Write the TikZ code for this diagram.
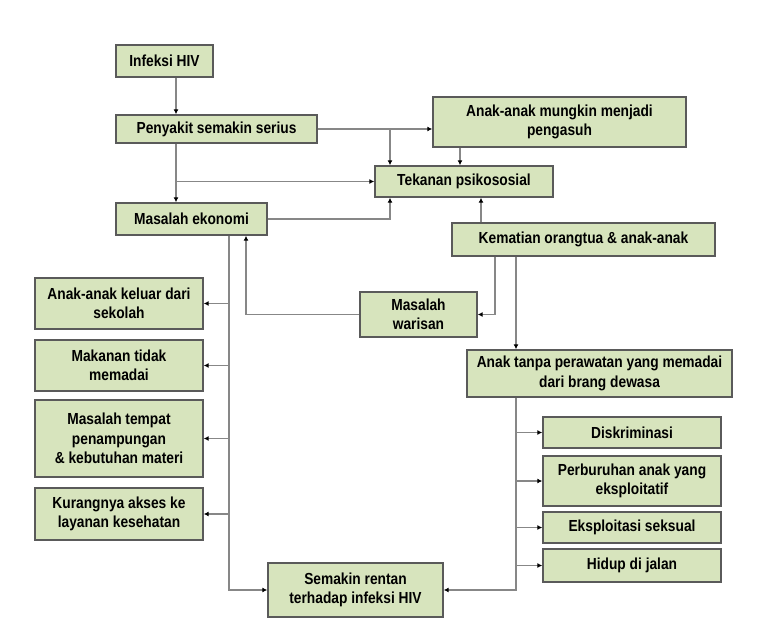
\documentclass[tikz,border=0pt]{standalone}
\usepackage{fontspec}
\usepackage{xcolor}
\usepackage{tikz}
\usetikzlibrary{arrows.meta, positioning}
\newfontfamily\boxfont{Liberation Sans}[FakeStretch=0.86]
\definecolor{boxfill}{RGB}{215,228,189}
\definecolor{boxline}{RGB}{90,90,90}
\definecolor{linegray}{RGB}{135,135,135}
\tikzset{
  box/.style={draw=boxline, line width=1.4pt, fill=boxfill, align=center, inner sep=0pt,
    font=\boxfont\bfseries\fontsize{16}{19.5}\selectfont},
  arr/.style={draw=linegray, line width=1.5pt, -{Latex[black,length=5pt,width=5pt]}},
  ln/.style={draw=linegray, line width=1.5pt}
}

\begin{document}
\begin{tikzpicture}[x=1pt,y=-1pt]
\useasboundingbox (0,0) rectangle (773,642);
\coordinate (lx) at (176,0);
\coordinate (mx) at (390,0);
\coordinate (px) at (460,0);
\coordinate (kx1) at (481,0);
\coordinate (kx2) at (495,0);
\coordinate (kx3) at (516,0);
\coordinate (wx) at (246,0);
\coordinate (ex) at (229,0);
\node[box, minimum width=97pt, minimum height=32pt] (hiv) at (164.5,61) {Infeksi HIV};
\node[box, minimum width=201pt, minimum height=28pt] (serius) at (216.5,129) {Penyakit semakin serius};
\node[box, minimum width=151pt, minimum height=32pt] (ekonomi) at (191.5,219) {Masalah ekonomi};
\node[box, minimum width=178pt, minimum height=31pt] (tekanan) at (464,181.5) {Tekanan psikososial};
\node[box, minimum width=253pt, minimum height=50pt] (pengasuh) at (559.5,122) {Anak-anak mungkin menjadi\\pengasuh};
\node[box, minimum width=263pt, minimum height=33pt] (kematian) at (583.5,239.5) {Kematian orangtua \& anak-anak};
\node[box, minimum width=117pt, minimum height=45pt] (warisan) at (418.5,314.5) {Masalah\\warisan};
\node[box, minimum width=265pt, minimum height=47pt] (perawatan) at (599.5,373.5) {Anak tanpa perawatan yang memadai\\dari brang dewasa};
\node[box, minimum width=168pt, minimum height=51pt] (sekolah) at (119,303.5) {Anak-anak keluar dari\\sekolah};
\node[box, minimum width=168pt, minimum height=51pt] (makanan) at (119,365.5) {Makanan tidak\\memadai};
\node[box, minimum width=168pt, minimum height=77pt] (tempat) at (119,438.5) {Masalah tempat\\penampungan\\\& kebutuhan materi};
\node[box, minimum width=168pt, minimum height=52pt] (akses) at (119,514) {Kurangnya akses ke\\layanan kesehatan};
\node[box, minimum width=175pt, minimum height=54pt] (rentan) at (355.5,590) {Semakin rentan\\terhadap infeksi HIV};
\node[box, minimum width=178pt, minimum height=31pt] (diskrim) at (632,432.5) {Diskriminasi};
\node[box, minimum width=178pt, minimum height=50pt] (buruh) at (632,481) {Perburuhan anak yang\\eksploitatif};
\node[box, minimum width=178pt, minimum height=31pt] (seksual) at (632,527.5) {Eksploitasi seksual};
\node[box, minimum width=178pt, minimum height=33pt] (jalan) at (632,565.5) {Hidup di jalan};
\draw[arr] (lx |- hiv.south) -- (lx |- serius.north);
\draw[arr] (lx |- serius.south) -- (lx |- ekonomi.north);
\draw[arr] (lx |- tekanan.west) -- (tekanan.west);
\draw[arr] (serius.east) -- (serius.east -| pengasuh.west);
\draw[arr] (mx |- serius.east) -- (mx |- tekanan.north);
\draw[arr] (px |- pengasuh.south) -- (px |- tekanan.north);
\draw[arr] (ekonomi.east) -| (mx |- tekanan.south);
\draw[arr] (kx1 |- kematian.north) -- (kx1 |- tekanan.south);
\draw[arr] (kx2 |- kematian.south) |- (warisan.east);
\draw[arr] (kx3 |- kematian.south) -- (kx3 |- perawatan.north);
\draw[arr] (warisan.west) -| (wx |- ekonomi.south);
\draw[arr] (ex |- ekonomi.south) |- (rentan.west);
\draw[arr] (kx3 |- perawatan.south) |- (rentan.east);
\foreach \n in {sekolah, makanan, tempat, akses}
  \draw[arr] (ex |- \n.east) -- (\n.east);
\foreach \n in {diskrim, buruh, seksual, jalan}
  \draw[arr] (kx3 |- \n.west) -- (\n.west);
\end{tikzpicture}
\end{document}
